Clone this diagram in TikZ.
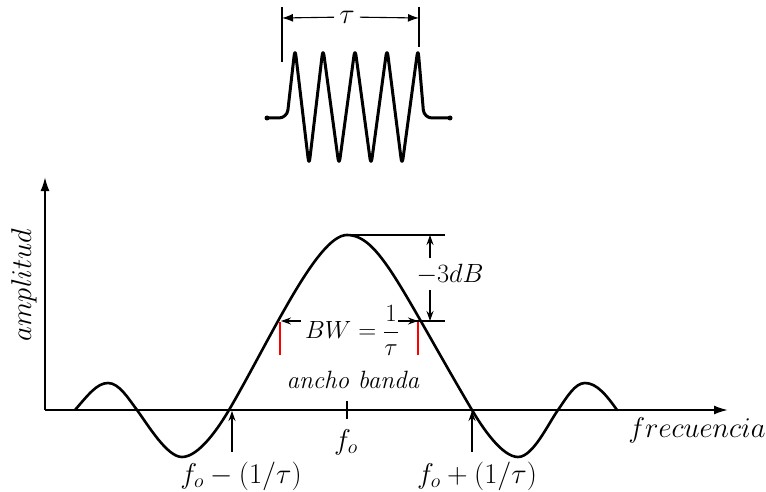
\documentclass[tikz,border=0pt]{standalone}
\usepackage{graphicx}
\usetikzlibrary{arrows.meta}
\newcommand{\mylbl}[1]{\scalebox{1.15}{$#1$}}
\tikzset{
  curve/.style={line width=2.6pt, line join=round, line cap=round},
  axisline/.style={line width=2pt, -{Latex[length=14pt,width=9pt]}},
  dimline/.style={line width=1.1pt},
  dimarrow/.style={line width=1.1pt, -{Stealth[length=10pt,width=7pt]}},
  lbl/.style={font=\fontsize{25}{30}\selectfont, inner sep=1pt},
  redmark/.style={red, line width=1.2pt},
}
\begin{document}
\begin{tikzpicture}[x=1pt,y=-1pt]
\useasboundingbox (0,0) rectangle (766,492);
\fill[white] (0,0) rectangle (766,492);

% ---------- pulse ----------
\draw[curve, line width=3pt, rounded corners=8pt]
  (267,118) -- (287,118) -- (295,48) -- (309,166) -- (323,48) -- (339,166)
  -- (355,48) -- (371,166) -- (387,48) -- (402,166) -- (418,48) -- (424,118) -- (450,118);
\fill (267,118) circle (2.5);
\fill (450,118) circle (2.5);
\coordinate (tl0) at (282,7);  \coordinate (tl1) at (282,62);
\coordinate (tr0) at (419,7);  \coordinate (tr1) at (419,47);
\draw[dimline] (tl0) -- (tl1);
\draw[dimline] (tr0) -- (tr1);
\node[lbl, inner sep=5pt] (tau) at (347,17) {\mylbl{\tau}};
\coordinate (tl) at (282,18);
\coordinate (tr) at (419,18);
\draw[line width=1.1pt, -{Latex[length=11pt,width=8pt]}] (tau) -- (tl);
\draw[line width=1.1pt, -{Latex[length=11pt,width=8pt]}] (tau) -- (tr);

% ---------- axes ----------
\coordinate (O) at (45,410);
\coordinate (ytop) at (45,177);
\coordinate (xend) at (728,410);
\draw[axisline] (O) -- (xend);
\draw[axisline] (O) -- (ytop);

% ---------- spectrum ----------
\draw[curve]
  (75,410) .. controls (88,395) and (97,383) .. (108,383)
  .. controls (119,383) and (128,398) .. (137,410)
  .. controls (148,425) and (167,457) .. (182,457)
  .. controls (199,457) and (219,427) .. (229,410)
  .. controls (270,340) and (317,235) .. (347,235)
  .. controls (379,235) and (400,288) .. (472,410)
  .. controls (482,427) and (502,457) .. (518,457)
  .. controls (533,457) and (548,424) .. (558,410)
  .. controls (567,397) and (575,383) .. (585,383)
  .. controls (597,383) and (607,396) .. (617,410);

% -3dB
\coordinate (pk) at (347,235);
\coordinate (pkr) at (445,235);
\coordinate (hp) at (398,321);
\coordinate (hpr) at (445,321);
\draw[dimline] (pk) -- (pkr);
\draw[dimline] (hp) -- (hpr);
\node[lbl] (db) at (450,274) {\scalebox{1.06}{$-3dB$}};
\coordinate (da0) at (430,258);
\coordinate (da1) at (430,235);
\coordinate (db0) at (430,290);
\coordinate (db1) at (430,321);
\draw[dimarrow] (da0) -- (da1);
\draw[dimarrow] (db0) -- (db1);

% BW
\node[lbl, anchor=base west] (bw) at (304,338) {$\displaystyle BW=\frac{1}{\tau}$};
\coordinate (bwl0) at (301,321);
\coordinate (bwl1) at (281,321);
\coordinate (bwr1) at (418,321);
\draw[dimarrow] (bwl0) -- (bwl1);
\draw[dimarrow] (hp) -- (bwr1);
\coordinate (rl0) at (280,322); \coordinate (rl1) at (280,355);
\coordinate (rr0) at (418,322); \coordinate (rr1) at (418,355);
\draw[redmark] (rl0) -- (rl1);
\draw[redmark] (rr0) -- (rr1);
\node[font=\fontsize{25}{30}\selectfont, inner sep=0pt] (ab) at (353,380) {\textit{ancho banda}};

% f_o tick and labels
\coordinate (ft0) at (347,401);
\coordinate (ft1) at (347,419);
\draw[line width=1.5pt] (ft0) -- (ft1);
\node[lbl] (fo) at (346,442) {\mylbl{f_o}};
\coordinate (a1s) at (232,452); \coordinate (a1e) at (232,411);
\coordinate (a2s) at (472,452); \coordinate (a2e) at (472,411);
\draw[dimarrow] (a1s) -- (a1e);
\draw[dimarrow] (a2s) -- (a2e);
\node[lbl] (fm) at (241,476) {\mylbl{f_o-(1/\tau)}};
\node[lbl] (fp) at (477,476) {\mylbl{f_o+(1/\tau)}};

\node[lbl] (fr) at (697,430) {\mylbl{frecuencia}};
\node[lbl, rotate=90] (am) at (24,285) {\mylbl{amplitud}};
\end{tikzpicture}
\end{document}
